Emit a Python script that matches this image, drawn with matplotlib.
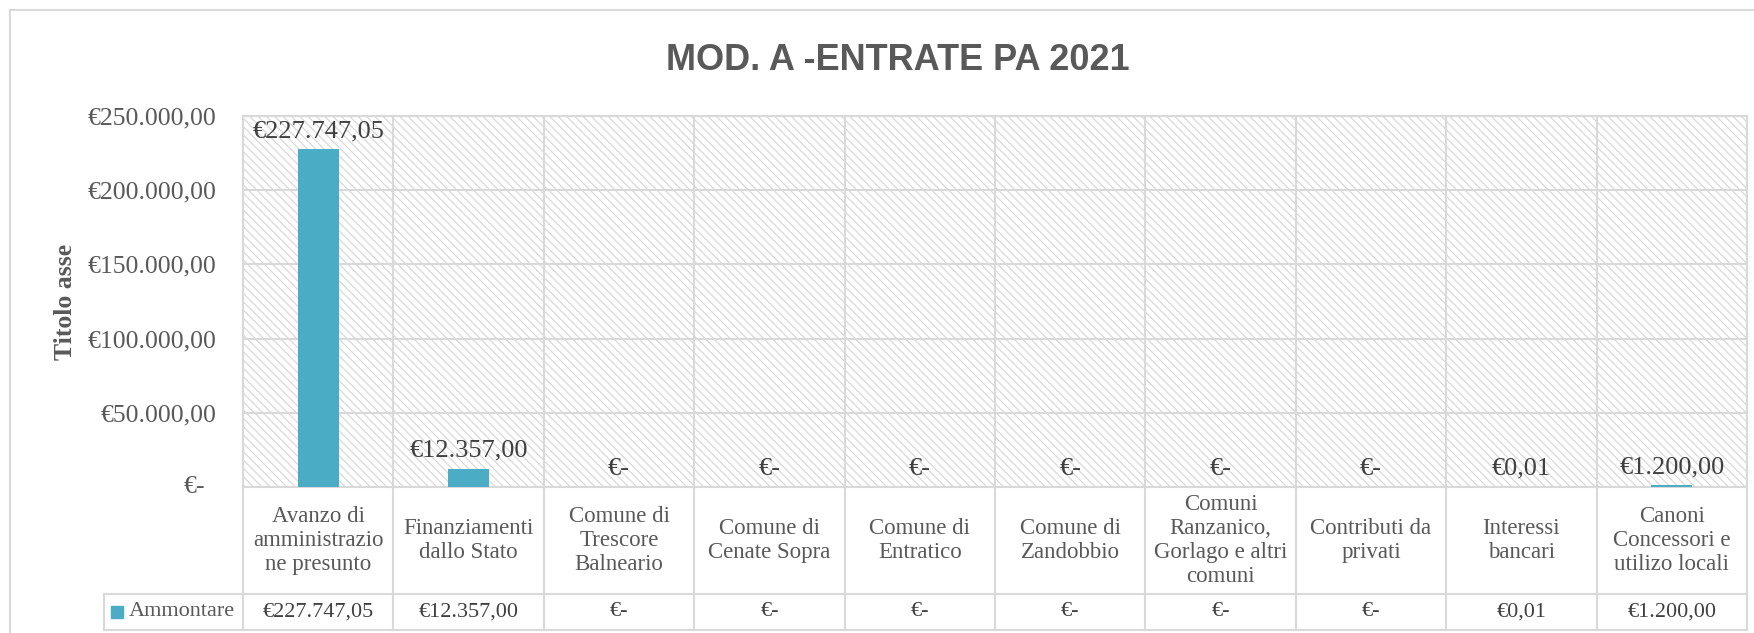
import matplotlib
matplotlib.use("Agg")
import matplotlib.pyplot as plt
from matplotlib.patches import Rectangle

plt.rcParams['font.family'] = ['Liberation Serif', 'DejaVu Serif']
plt.rcParams['hatch.linewidth'] = 0.9

"""
Data
"""
title = "MOD. A -ENTRATE PA 2021"
y_title = "Titolo asse"
series_name = "Ammontare"
categories = [
    "Avanzo di\namministrazio\nne presunto",
    "Finanziamenti\ndallo Stato",
    "Comune di\nTrescore\nBalneario",
    "Comune di\nCenate Sopra",
    "Comune di\nEntratico",
    "Comune di\nZandobbio",
    "Comuni\nRanzanico,\nGorlago e altri\ncomuni",
    "Contributi da\nprivati",
    "Interessi\nbancari",
    "Canoni\nConcessori e\nutilizo locali",
]
values = [227747.05, 12357.00, 0, 0, 0, 0, 0, 0, 0.01, 1200.00]
y_ticks = [0, 50000, 100000, 150000, 200000, 250000]


def euro(v):
    # Excel accounting style, Italian separators
    if round(v, 2) == 0:
        return "€-"
    s = "{:,.2f}".format(v)
    s = s.replace(",", "X").replace(".", ",").replace("X", ".")
    return "€" + s


BAR = "#4bacc6"
GRID = "#d9d9d9"
TXT = "#595959"
DARK = "#404040"

W, H = 1754, 633
fig = plt.figure(figsize=(W / 100, H / 100), dpi=100)

# chart border (only top and left edges fall inside the image)
fig.add_artist(plt.Line2D([10 / W, 1], [1 - 10 / H] * 2, color=GRID, lw=1.5))
fig.add_artist(plt.Line2D([10 / W] * 2, [0, 1 - 10 / H], color=GRID, lw=1.5))

pl, pr, pt, pb = 243, 1747, 116, 487
ax = fig.add_axes([pl / W, 1 - pb / H, (pr - pl) / W, (pb - pt) / H])
n = len(categories)
x = list(range(n))

ax.add_patch(Rectangle((0, 0), 1, 1, transform=ax.transAxes, facecolor="white",
                       edgecolor="#d9d9d9", hatch="\\\\\\\\", lw=0, zorder=0))
ax.bar(x, values, width=0.27, color=BAR, zorder=3)

ax.set_xlim(-0.5, n - 0.5)
ax.set_ylim(0, 250000)
ax.set_yticks(y_ticks)
ax.set_yticklabels([euro(t) if t else "" for t in y_ticks])
ax.tick_params(axis="y", length=0, pad=19, labelsize=18.5, labelcolor=TXT)
ax.set_xticks([])
for t in y_ticks:
    ax.axhline(t, color=GRID, lw=1.5, zorder=1)
for b in range(n + 1):
    ax.axvline(b - 0.5, color=GRID, lw=1.5, zorder=1)
for s in ax.spines.values():
    s.set_color(GRID)
    s.set_linewidth(1.5)
ax.annotate("€-", xy=(0, 0), xycoords=("axes fraction", "data"), xytext=(-27, 0),
            textcoords="offset points", ha="right", va="center", fontsize=18.5, color=TXT)

for i, v in zip(x, values):
    ax.annotate(euro(v), xy=(i, v), xytext=(0, 13), textcoords="offset points",
                ha="center", va="center", fontsize=19, color=DARK, zorder=4)

ax.set_ylabel(y_title, fontsize=18.5, fontweight="bold", color=TXT, labelpad=0)
ax.yaxis.set_label_coords(-(pl - 77) / (pr - pl), 0.5)

fig.text(898 / W, 1 - 60 / H, title, ha="center", va="center", fontsize=26,
         fontweight="bold", color=TXT, family="Liberation Sans")

# data table under the plot
tl, tb = 104, 630
unit = (pr - pl) / n
x_left = -0.5 - (pl - tl) / unit
tax = fig.add_axes([tl / W, 1 - tb / H, (pr - tl) / W, (tb - pb) / H])
tax.set_xlim(x_left, n - 0.5)
tax.set_ylim(0, 1)
tax.axis("off")
row = (tb - 594) / (tb - pb)
kw = dict(color=GRID, lw=1.5, clip_on=False)
tax.plot([x_left, n - 0.5], [row, row], **kw)
tax.plot([x_left, n - 0.5], [0, 0], **kw)
tax.plot([x_left, x_left], [0, row], **kw)
for b in range(n + 1):
    tax.plot([b - 0.5, b - 0.5], [0, 1], **kw)

for i, (c, v) in enumerate(zip(categories, values)):
    tax.text(i, (1 + row) / 2, c, ha="center", va="center", fontsize=16.5,
             color=TXT, linespacing=1.2)
    tax.text(i, row / 2, euro(v), ha="center", va="center", fontsize=16, color=DARK)

tax.plot([x_left + 13 / unit], [row / 2], marker="s", ms=8.6, color=BAR, clip_on=False)
tax.annotate(series_name, xy=(-0.5, row / 2), xytext=(-6, 0), textcoords="offset points",
             ha="right", va="center", fontsize=16, color=TXT)

plt.savefig("out.png", dpi=100)
